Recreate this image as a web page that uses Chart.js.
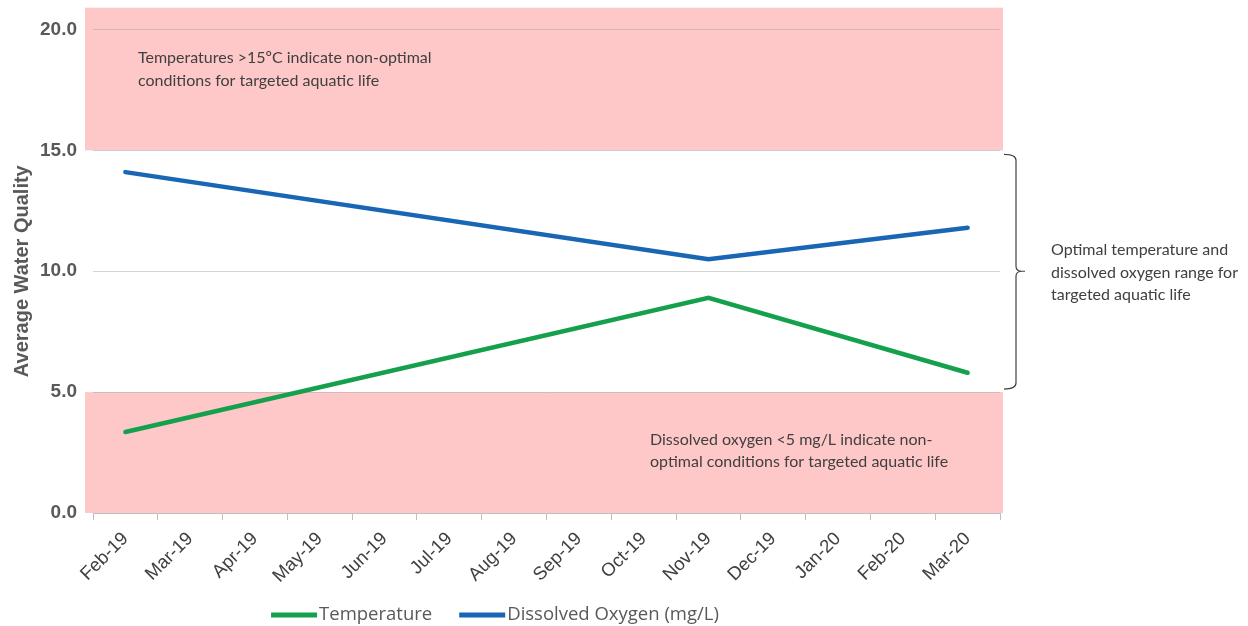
<!DOCTYPE html>
<html>
<head>
<meta charset="utf-8">
<script src="https://cdn.jsdelivr.net/npm/chart.js@4"></script>
<style>
  html, body { margin: 0; padding: 0; background: #ffffff; }
  #wrap { width: 1248px; height: 626px; }
</style>
</head>
<body>
<div id="wrap"><canvas id="chart" width="1248" height="626"></canvas></div>
<script>
// Sampling months (x categories)
const months = ['Feb-19', 'Mar-19', 'Apr-19', 'May-19', 'Jun-19', 'Jul-19', 'Aug-19',
                'Sep-19', 'Oct-19', 'Nov-19', 'Dec-19', 'Jan-20', 'Feb-20', 'Mar-20'];

// Averages measured on sampling dates only; other months have no reading
const temperature     = [3.35, null, null, null, null, null, null, null, null, 8.9,  null, null, null, 5.8];
const dissolvedOxygen = [14.1, null, null, null, null, null, null, null, null, 10.5, null, null, null, 11.8];

const yTicks = [0, 5, 10, 15, 20];
const yMax = 20.9;
const yTitle = 'Average Water Quality';

// Non-optimal ranges (value bounds) shaded behind the lines
const highTempZone = [15, 20.9];
const lowOxygenZone = [0, 5];

const highTempNote  = ['Temperatures >15\u00BAC indicate non-optimal', 'conditions for targeted aquatic life'];
const lowOxygenNote = ['Dissolved oxygen <5 mg/L indicate non-', 'optimal conditions for targeted aquatic life'];
const optimalNote   = ['Optimal temperature and', 'dissolved oxygen range for', 'targeted aquatic life'];

const GREEN = '#14A04C';
const BLUE = '#1866B4';
const NOTE_FONT = '16px Lato, "Open Sans", sans-serif';
const LEGEND_FONT = '18.5px "Open Sans", sans-serif';
const TITLE_FONT = 'bold 20px "Liberation Sans", Arial, sans-serif';

const zonesPlugin = {
  id: 'zones',
  beforeDraw(chart) {
    const { ctx, chartArea } = chart;
    const y = chart.scales.y;
    ctx.save();
    ctx.fillStyle = '#FFC8C8';
    [highTempZone, lowOxygenZone].forEach(([lo, hi]) => {
      const top = y.getPixelForValue(hi);
      const bottom = y.getPixelForValue(lo);
      ctx.fillRect(chartArea.left - 8, top, chartArea.right - chartArea.left + 11, bottom - top);
    });
    ctx.restore();
  }
};

// Axis title, annotations, range brace and the line legend under the axis
const notesPlugin = {
  id: 'notes',
  afterDraw(chart) {
    const { ctx, chartArea } = chart;
    const y = chart.scales.y;
    ctx.save();

    // y-axis title
    ctx.save();
    ctx.translate(22, y.getPixelForValue(10));
    ctx.rotate(-Math.PI / 2);
    ctx.font = TITLE_FONT;
    ctx.fillStyle = '#595959';
    ctx.textAlign = 'center';
    ctx.textBaseline = 'middle';
    ctx.fillText(yTitle, 0, 0);
    ctx.restore();

    ctx.font = NOTE_FONT;
    ctx.fillStyle = '#404040';
    ctx.textBaseline = 'middle';
    ctx.textAlign = 'left';
    highTempNote.forEach((t, i) => ctx.fillText(t, chartArea.left + 45, 58 + i * 23));
    lowOxygenNote.forEach((t, i) => ctx.fillText(t, chartArea.left + 557, 440 + i * 22));
    optimalNote.forEach((t, i) => ctx.fillText(t, chartArea.right + 51, 250 + i * 22.5));

    // curly brace spanning the optimal range
    const top = y.getPixelForValue(15) + 4;
    const bot = y.getPixelForValue(5) - 3;
    const mid = y.getPixelForValue(10);
    const x0 = chartArea.right + 4, x1 = chartArea.right + 16, x2 = chartArea.right + 25;
    ctx.strokeStyle = '#404040';
    ctx.lineWidth = 1.2;
    ctx.beginPath();
    ctx.moveTo(x0, top);
    ctx.quadraticCurveTo(x1, top, x1, top + 6);
    ctx.lineTo(x1, mid - 5);
    ctx.quadraticCurveTo(x1, mid, x2 - 3, mid);
    ctx.lineTo(x2, mid);
    ctx.moveTo(x2 - 3, mid);
    ctx.quadraticCurveTo(x1, mid, x1, mid + 5);
    ctx.lineTo(x1, bot - 6);
    ctx.quadraticCurveTo(x1, bot, x0, bot);
    ctx.stroke();

    // legend
    const lineLen = 46, textGap = 2, itemGap = 27;
    ctx.font = LEGEND_FONT;
    const items = chart.data.datasets.map(ds => ({ text: ds.label, color: ds.borderColor, w: ctx.measureText(ds.label).width }));
    const total = items.reduce((s, it) => s + lineLen + textGap + it.w, 0) + itemGap * (items.length - 1);
    const legendY = chart.height - 11;
    let lx = (chart.width - 258) / 2 - total / 2;
    items.forEach(it => {
      ctx.fillStyle = it.color;
      ctx.fillRect(lx, legendY - 2.5, lineLen, 5);
      lx += lineLen + textGap;
      ctx.fillStyle = '#595959';
      ctx.fillText(it.text, lx, legendY);
      lx += it.w + itemGap;
    });
    ctx.restore();
  }
};

new Chart(document.getElementById('chart'), {
  type: 'line',
  data: {
    labels: months,
    datasets: [
      {
        label: 'Temperature',
        data: temperature,
        borderColor: GREEN,
        backgroundColor: GREEN,
        borderWidth: 4.5,
        pointRadius: 0,
        spanGaps: true,
        tension: 0,
        borderCapStyle: 'round'
      },
      {
        label: 'Dissolved Oxygen (mg/L)',
        data: dissolvedOxygen,
        borderColor: BLUE,
        backgroundColor: BLUE,
        borderWidth: 4.5,
        pointRadius: 0,
        spanGaps: true,
        tension: 0,
        borderCapStyle: 'round'
      }
    ]
  },
  options: {
    responsive: false,
    animation: false,
    layout: { padding: { left: 0, right: 248, top: 6, bottom: 23 } },
    plugins: {
      tooltip: { enabled: false },
      legend: { display: false }
    },
    scales: {
      x: {
        offset: true,
        afterFit(scale) { scale.height = 90; },
        grid: { offset: true, drawOnChartArea: false, drawTicks: true, tickLength: 7, color: '#BFBFBF' },
        border: { color: '#BFBFBF' },
        ticks: {
          minRotation: 45,
          maxRotation: 45,
          autoSkip: false,
          padding: 8,
          color: '#404040',
          font: { family: '"Liberation Sans", Arial, sans-serif', size: 18.5 }
        }
      },
      y: {
        min: 0,
        max: yMax,
        afterBuildTicks(scale) { scale.ticks = yTicks.map(v => ({ value: v })); },
        afterFit(scale) { scale.width = 93; },
        grid: { color: 'rgba(150,150,150,0.4)', drawTicks: true, tickLength: 14, tickColor: 'rgba(0,0,0,0)' },
        border: { display: false },
        ticks: {
          padding: 2,
          color: '#595959',
          font: { family: '"Liberation Sans", Arial, sans-serif', size: 19, weight: 'bold', lineHeight: 0.6 },
          callback: v => Number(v).toFixed(1)
        }
      }
    }
  },
  plugins: [zonesPlugin, notesPlugin]
});
</script>
</body>
</html>
